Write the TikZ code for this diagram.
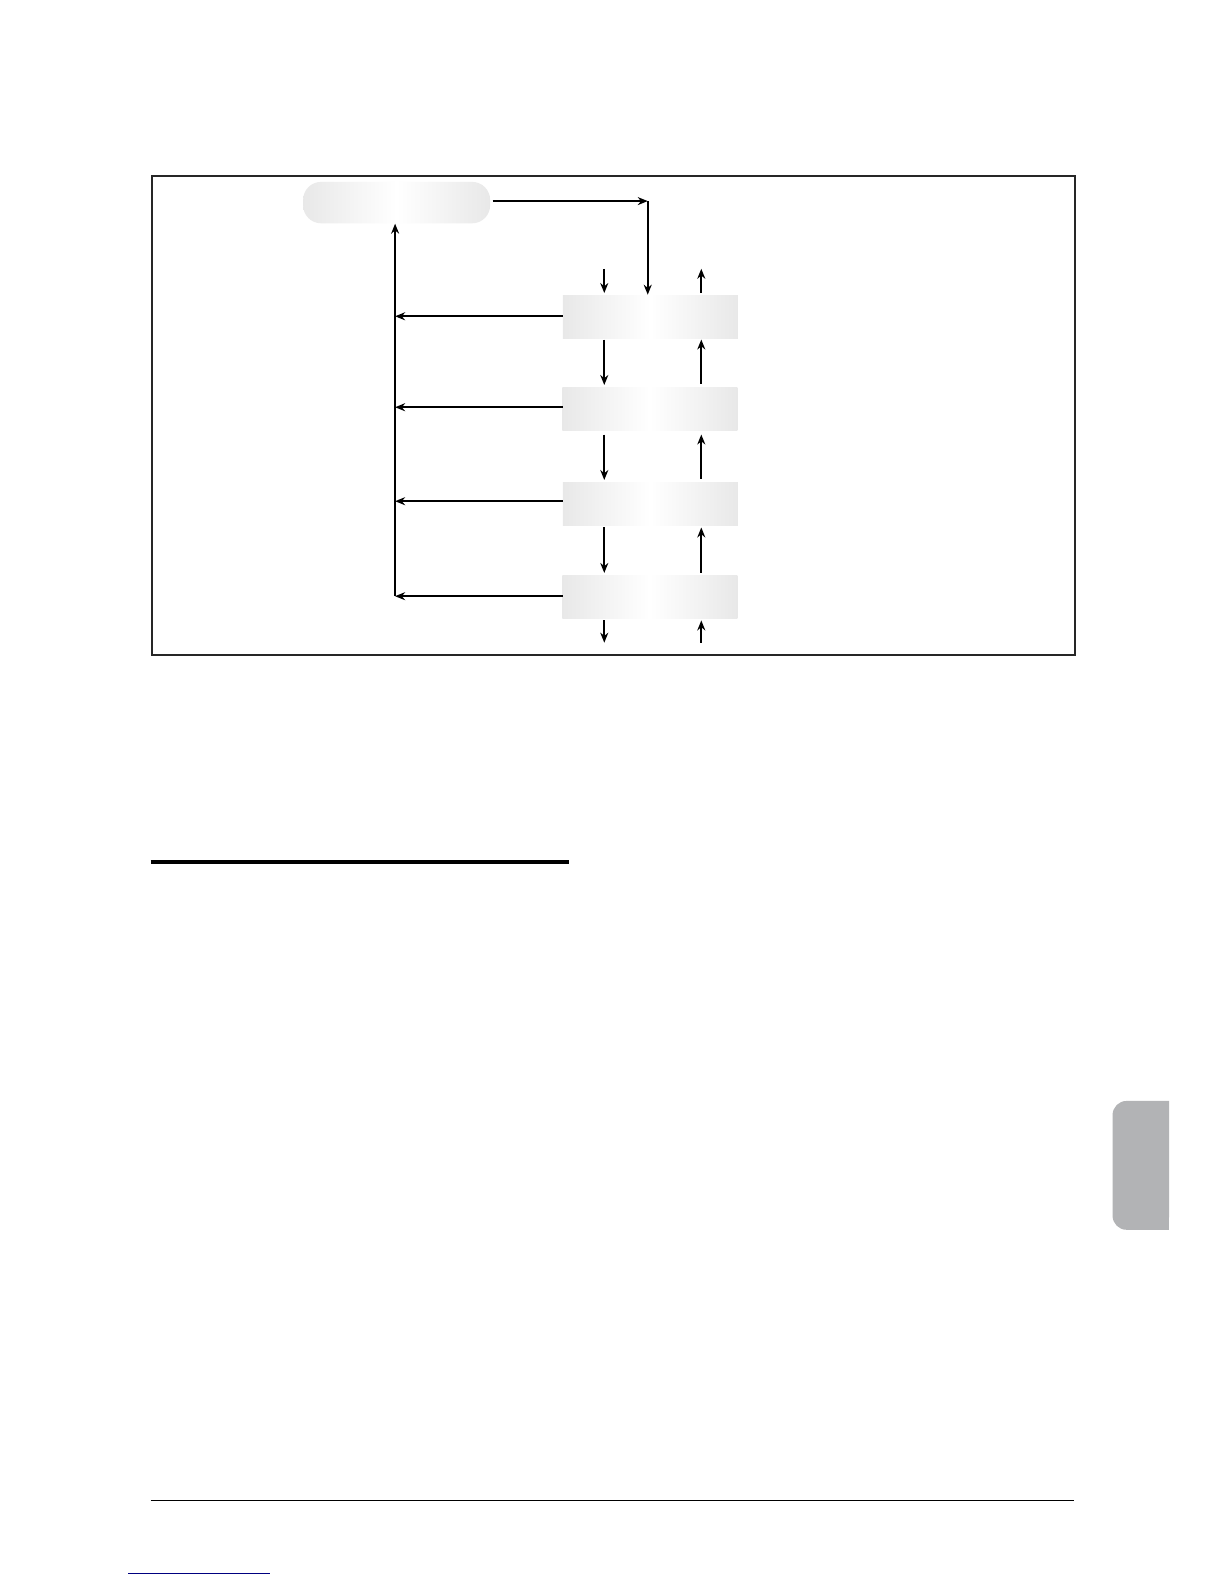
\documentclass[tikz,border=0pt]{standalone}
\usetikzlibrary{arrows.meta}
\definecolor{tabgray}{RGB}{178,179,181}
\begin{document}
\begin{tikzpicture}[x=0.50525pt,y=-0.50525pt,
  ln/.style={line width=1.2pt,black},
  arr/.style={ln,-{Stealth[length=5pt,width=4pt]}},
  boxshade/.style={draw=none,left color=black!9,right color=black!9,middle color=white},
  stage/.style={boxshade,minimum width=87.5pt,minimum height=21.7pt,inner sep=0pt},
  startbox/.style={boxshade,rounded corners=9pt,minimum width=93.5pt,minimum height=20.7pt,inner sep=0pt}]
\useasboundingbox (0pt,0pt) rectangle (612pt,-792pt);
\fill[white] (0pt,0pt) rectangle (612pt,-792pt);
% frame
\node[draw=black!85,line width=1pt,minimum width=461.8pt,minimum height=239.5pt,inner sep=0pt,anchor=north west] (frame) at (149,173) {};
% boxes
\node[startbox] (top) at (392.5,200.5) {};
\node[stage] (b1) at (643.5,313.5) {};
\node[stage] (b2) at (643,404.5) {};
\node[stage] (b3) at (643.5,498.5) {};
\node[stage] (b4) at (643,590.5) {};
% top -> b1
\coordinate (c1) at (641,199);
\draw[arr] (top.east |- c1) ++(2,0) -- (c1);
\draw[arr] (c1) -- (c1 |- b1.north);
% left return line
\coordinate (lb) at (391,590);
\draw[arr] (lb) -- (lb |- top.south);
\foreach \b/\yy in {b1/313,b2/403,b3/496,b4/590}{
  \coordinate (h\b) at (557,\yy);
  \draw[arr] (h\b) -- (391,\yy);
}
% down arrows x=598, up arrows x=694
\coordinate (din) at (598,266);
\draw[arr] (din) -- (598,290);
\coordinate (uout) at (694,266);
\draw[arr] (694,290) -- (uout);
\draw[arr] (598,336) -- (598,381);
\draw[arr] (694,380) -- (694,336);
\draw[arr] (598,430) -- (598,475);
\draw[arr] (694,474) -- (694,430);
\draw[arr] (598,522) -- (598,567);
\draw[arr] (694,567) -- (694,522);
\coordinate (dout) at (598,636);
\draw[arr] (598,614) -- (dout);
\coordinate (uin) at (694,636);
\draw[arr] (uin) -- (694,614);
% section rule
\coordinate (r1) at (149,853);
\coordinate (r2) at (563,853);
\draw[line width=1.6pt] (r1) -- (r2);
% side tab
\fill[tabgray,rounded corners=7pt] (1157,1089.5) -- (1101,1089.5) -- (1101,1217) -- (1157,1217) [sharp corners] -- cycle;
\fill[tabgray] (1140,1089.5) rectangle (1157,1217);
% footer rule
\coordinate (f1) at (149,1485);
\coordinate (f2) at (1063,1485);
\draw[line width=0.8pt] (f1) -- (f2);
% blue underline
\coordinate (u1) at (127,1557);
\coordinate (u2) at (267,1557);
\draw[line width=0.8pt,blue!50!black] (u1) -- (u2);
\end{tikzpicture}
\end{document}
